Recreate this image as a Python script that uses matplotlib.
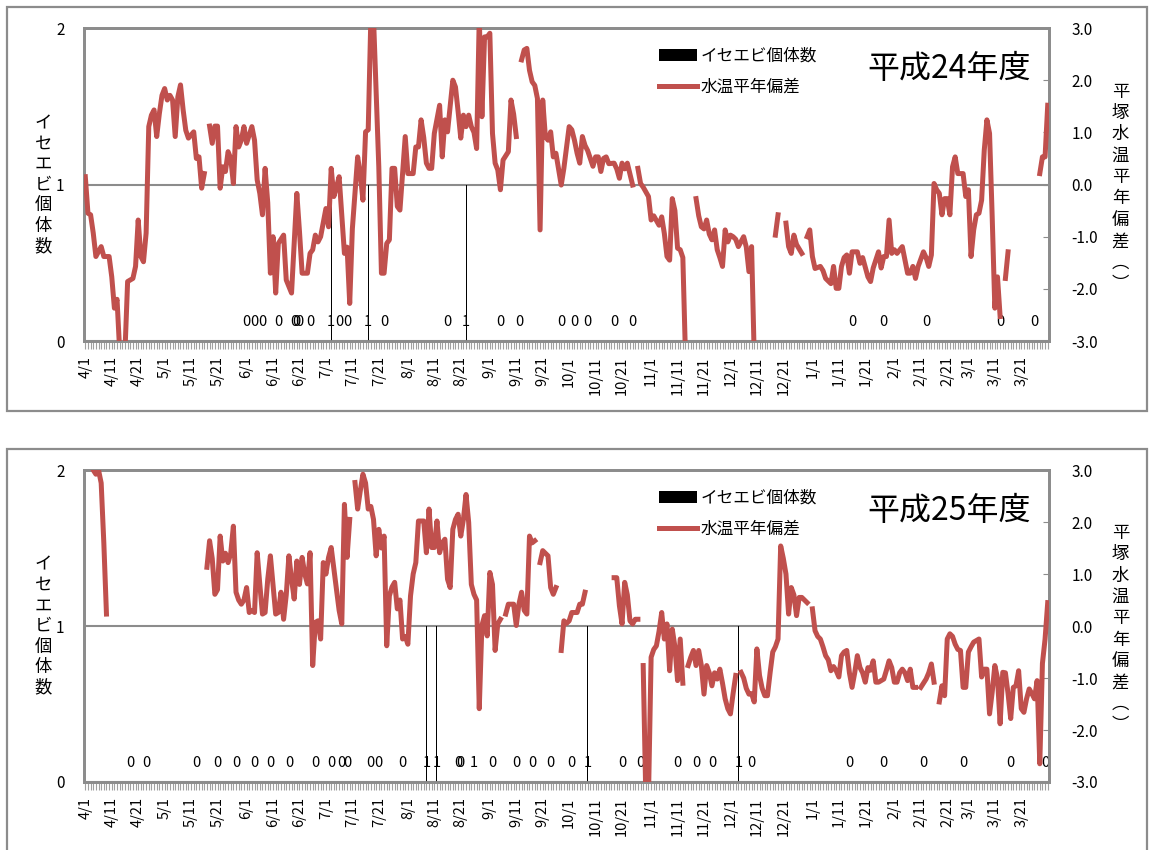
import numpy as np
import pandas as pd
import matplotlib
matplotlib.use("Agg")
import matplotlib.pyplot as plt
from matplotlib.patches import Rectangle, Patch
from matplotlib.lines import Line2D

plt.rcParams['font.family'] = ['Noto Sans CJK JP', 'DejaVu Sans']

nan = np.nan

# day index counted from 4/1 (0 = 4/1), water temperature anomaly (deg C)
h24_temp = [
    (0, 0.15), (1, -0.55), (2, -0.58), (3, -0.93), (4, -1.38), (6, -1.19), (7, -1.38), (9, -1.38),
    (10, -1.77), (11, -2.37), (12, -2.2), (13, -3.2), (15, -3.2), (16, -1.86), (18, -1.8), (19, -1.57),
    (20, -0.68), (21, -1.38), (22, -1.48), (23, -0.93), (24, 1.11), (25, 1.33), (26, 1.43), (27, 0.92),
    (28, 1.36), (29, 1.71), (30, 1.84), (31, 1.62), (32, 1.71), (33, 1.62), (34, 0.92), (35, 1.68),
    (36, 1.91), (37, 1.43), (38, 1.04), (39, 0.89), (41, 1.01), (42, 0.5), (43, 0.53), (44, -0.07),
    (45, 0.21), (46, nan),
    (47, 1.12), (48, 0.79), (49, 1.12), (50, 1.12), (51, -0.07), (52, 0.34), (53, 0.25), (54, 0.63),
    (55, 0.5), (56, 0.02), (57, 1.11), (58, 0.72), (59, 0.85), (60, 1.11), (61, 0.79), (62, 0.95),
    (63, 1.11), (64, 0.85), (65, 0.09), (66, -0.17), (67, -0.58), (68, 0.31), (69, -0.35), (70, -1.7),
    (71, -1.0), (72, -2.08), (73, -1.13), (75, -0.97), (76, -1.83), (78, -2.08), (80, -0.17), (81, -0.9),
    (82, -1.7), (84, -1.7), (85, -1.32), (86, -1.25), (87, -0.97), (88, -1.1), (89, -1.0), (91, -0.46),
    (92, -0.81), (93, 0.31), (94, -0.23), (95, -0.05), (96, 0.15), (98, -1.32), (99, -1.2), (100, -2.28),
    (101, -0.85), (103, 0.53), (104, 0.2), (105, -0.3), (106, 1.01), (107, 1.05), (108, 3.2), (109, 3.2),
    (111, 0.34), (112, -1.7), (113, -1.7), (114, -1.13), (115, -1.06), (116, 0.31), (117, 0.31),
    (118, -0.42), (119, -0.49), (120, 0.21), (121, 0.92), (122, 0.21), (124, 0.21), (125, 0.72),
    (126, 0.72), (127, 1.24), (128, 0.9), (129, 0.41), (130, 0.31), (131, 0.31), (132, 0.98), (134, 1.52),
    (135, 0.53), (136, 1.24), (137, 1.01), (139, 2.0), (140, 1.87), (141, 1.4), (142, 0.89), (143, 1.33),
    (144, 1.11), (145, 1.33), (146, 1.11), (147, 1.0), (148, 0.69), (149, 3.2), (150, 1.3), (151, 2.83),
    (152, 2.83), (153, 2.9), (154, 0.98), (155, 0.41), (156, 0.28), (157, -0.1), (158, 0.47), (159, 0.55),
    (160, 0.63), (161, 1.62), (162, 1.35), (163, 0.92), (164, nan),
    (165, 2.39), (166, 2.58), (167, 2.61), (168, 2.19), (169, 1.97), (170, 1.9), (171, 1.65), (172, -0.87),
    (173, 1.62), (174, 0.92), (175, 0.85), (176, 1.01), (177, 0.53), (178, 0.6), (180, -0.01), (181, 0.31),
    (183, 1.11), (184, 1.05), (185, 0.85), (186, 0.6), (187, 0.41), (188, 0.92), (189, 0.75), (190, 0.65),
    (191, 0.5), (192, 0.35), (193, 0.53), (194, 0.53), (195, 0.25), (196, 0.5), (197, 0.53), (198, 0.4),
    (200, 0.41), (201, 0.3), (202, 0.12), (203, 0.41), (204, 0.3), (205, 0.41), (206, 0.2), (207, -0.01),
    (208, nan),
    (209, 0.31), (210, 0.02), (211, -0.05), (213, -0.23), (214, -0.68), (215, -0.6), (217, -0.78),
    (218, -0.62), (219, -0.94), (220, -1.38), (221, -1.45), (222, -0.27), (223, -0.5), (224, -1.22),
    (225, -1.25), (226, -1.4), (227, -3.3), (228, nan),
    (231, -0.27), (232, -0.6), (233, -0.81), (234, -0.85), (235, -0.68), (236, -0.95), (237, -1.06),
    (238, -0.87), (239, -1.25), (240, -1.4), (241, -1.57), (242, -0.87), (243, -1.1), (244, -0.97),
    (245, -1.0), (246, -1.05), (247, -1.19), (249, -1.0), (250, -1.2), (251, -1.67), (252, -1.19),
    (253, -3.3), (254, nan),
    (261, -0.97), (262, -0.58), (263, nan),
    (265, -0.74), (266, -1.19), (267, -1.32), (268, -0.97), (269, -1.15), (271, -1.32), (272, nan),
    (273, -1.0), (274, -0.87), (275, -1.38), (276, -1.61), (278, -1.57), (279, -1.65), (280, -1.8),
    (282, -1.9), (283, -1.57), (284, -1.99), (285, -1.99), (286, -1.57), (287, -1.4), (288, -1.35),
    (289, -1.7), (290, -1.29), (292, -1.29), (293, -1.51), (294, -1.4), (296, -1.77), (297, -1.86),
    (298, -1.6), (300, -1.29), (301, -1.6), (302, -1.38), (303, -1.38), (304, -0.68), (305, -1.32),
    (306, -1.25), (307, -1.32), (309, -1.19), (310, -1.45), (311, -1.7), (312, -1.7), (313, -1.57),
    (314, -1.8), (315, -1.57), (317, -1.29), (318, -1.4), (319, -1.57), (320, -1.35), (321, 0.02),
    (322, -0.1), (323, -0.17), (324, -0.58), (325, -0.27), (326, -0.27), (327, -0.58), (328, 0.34),
    (329, 0.53), (330, 0.21), (332, 0.21), (333, -0.23), (334, -0.1), (335, -1.38), (336, -0.87),
    (337, -0.58), (338, -0.55), (339, -0.3), (340, 0.66), (341, 1.24), (342, 0.98), (343, -0.62),
    (344, -2.37), (345, -1.77), (346, -2.53), (347, nan),
    (348, -1.8), (349, -1.29), (350, nan),
    (361, 0.21), (362, 0.53), (363, 0.53), (364, 1.52),
]

h25_temp = [
    (0, 3.3), (1, 3.3), (2, 3.1), (3, 3.0), (4, 2.92), (5, 3.0), (6, 2.75), (7, 1.6), (8, 0.23), (9, nan),
    (46, 1.13), (47, 1.64), (48, 1.3), (49, 0.61), (50, 0.7), (51, 1.73), (52, 1.25), (53, 1.4),
    (54, 1.22), (55, 1.4), (56, 1.92), (57, 0.65), (58, 0.5), (59, 0.42), (60, 0.5), (61, 0.74),
    (62, 0.26), (63, 0.3), (64, 0.26), (65, 1.41), (66, 0.8), (67, 0.23), (68, 0.26), (69, 0.9),
    (70, 1.35), (71, 0.8), (72, 0.23), (73, 0.26), (74, 0.65), (75, 0.13), (76, 0.6), (77, 1.35),
    (78, 0.9), (79, 0.52), (80, 1.25), (81, 0.8), (82, 1.32), (83, 1.0), (84, 0.81), (85, 1.41),
    (86, -0.76), (87, 0.07), (88, 0.1), (89, -0.25), (90, 1.22), (91, 1.0), (92, 1.32), (93, 1.51),
    (94, 1.1), (95, 0.7), (96, 0.3), (97, 0.04), (98, 2.34), (99, 1.32), (100, 2.05), (101, nan),
    (102, 2.76), (103, 2.25), (104, 2.6), (105, 2.92), (106, 2.75), (107, 2.25), (108, 2.3), (109, 2.05),
    (110, 1.35), (111, 1.86), (112, 1.5), (113, 1.73), (114, -0.38), (115, 0.58), (116, 0.75),
    (117, 0.84), (118, 0.33), (119, 0.5), (120, -0.25), (121, -0.2), (122, -0.35), (123, 0.58),
    (124, 1.0), (125, 1.22), (126, 2.02), (127, 2.02), (128, 2.02), (129, 1.41), (130, 2.25),
    (131, 1.51), (132, 1.51), (133, 2.02), (134, 1.41), (135, 1.6), (136, 1.67), (137, 0.9),
    (138, 0.74), (139, 1.86), (140, 2.05), (141, 2.15), (142, 1.73), (143, 2.05), (144, 2.53),
    (145, 1.99), (146, 0.8), (147, 0.61), (148, 0.5), (149, -1.59), (150, 0.01), (151, 0.2),
    (152, -0.19), (153, 1.03), (154, 0.8), (155, -0.47), (156, 0.04), (157, 0.13), (158, nan),
    (159, 0.23), (160, 0.42), (161, 0.42), (162, 0.42), (163, 0.01), (164, 0.42), (165, 0.65),
    (166, 0.3), (167, 0.23), (168, 1.73), (169, 1.6), (170, 1.64), (171, nan),
    (172, 1.22), (173, 1.45), (174, 1.4), (175, 1.35), (176, 0.74), (177, 0.61), (178, 0.74), (179, nan),
    (180, -0.47), (181, 0.1), (182, 0.05), (183, 0.1), (184, 0.26), (185, 0.26), (186, 0.26),
    (187, 0.42), (188, 0.42), (189, 0.65), (190, nan),
    (200, 0.93), (201, 0.93), (202, 0.39), (203, 0.04), (204, 0.84), (205, 0.6), (206, 0.1),
    (207, 0.04), (208, 0.13), (209, 0.13), (210, nan),
    (211, -0.76), (212, -3.3), (213, -3.3), (214, -0.6), (215, -0.45), (216, -0.38), (217, -0.1),
    (218, 0.26), (219, -0.25), (220, 0.04), (221, -0.86), (222, -0.06), (223, -0.4), (224, -1.05),
    (225, -0.25), (226, -1.1), (227, nan),
    (228, -0.76), (229, -0.6), (230, -0.47), (231, -0.76), (232, -0.47), (233, -0.76), (234, -1.31),
    (235, -0.76), (236, -0.9), (237, -1.15), (238, -0.9), (239, -1.02), (240, -0.83), (241, -1.1),
    (242, -1.4), (243, -1.59), (244, -1.69), (245, -1.3), (246, -0.95), (247, nan),
    (248, -0.89), (249, -1.0), (250, -1.2), (251, -1.31), (252, -1.3), (253, -1.46), (254, -0.44),
    (255, -0.95), (256, -1.2), (257, -1.34), (258, -1.34), (259, -0.9), (260, -0.5), (261, -0.4),
    (262, -0.25), (263, 1.54), (264, 1.3), (265, 1.0), (266, 0.23), (267, 0.74), (268, 0.6),
    (269, 0.2), (270, 0.55), (271, 0.55), (272, 0.5), (273, 0.45), (274, nan),
    (275, 0.33), (276, -0.09), (277, -0.2), (278, -0.25), (279, -0.4), (280, -0.57), (281, -0.65),
    (282, -0.86), (283, -0.78), (284, -0.86), (285, -0.98), (286, -0.57), (287, -0.5), (288, -0.47),
    (289, -0.9), (290, -1.18), (291, -0.9), (292, -0.57), (293, -0.8), (294, -0.9), (295, -1.08),
    (296, -0.8), (297, -0.85), (298, -0.67), (299, -1.08), (300, -1.08), (301, -1.05), (302, -1.02),
    (303, -0.85), (304, -0.67), (305, -0.8), (306, -1.08), (307, -1.08), (308, -0.9), (309, -0.83),
    (310, -0.9), (311, -1.05), (312, -0.83), (313, -1.18), (314, -1.18), (315, nan),
    (316, -1.18), (317, -1.1), (318, -1.02), (319, -0.9), (320, -0.73), (321, -1.08), (322, nan),
    (323, -1.46), (324, -1.15), (325, -1.34), (326, -0.25), (327, -0.15), (328, -0.2), (329, -0.35),
    (330, -0.45), (331, -0.47), (332, -1.18), (333, -1.18), (334, -0.5), (335, -0.4), (336, -0.31),
    (337, -0.28), (338, -0.25), (339, -0.98), (340, -0.83), (341, -0.83), (342, -1.69), (343, -1.27),
    (344, -0.76), (345, -1.0), (346, -1.88), (347, -0.89), (348, -0.9), (349, -1.3), (350, -1.78),
    (351, -1.18), (352, -1.15), (353, -0.86), (354, -1.59), (355, -1.66), (356, -1.4), (357, -1.21),
    (358, -1.3), (359, -1.4), (360, -1.05), (361, -2.65), (362, -0.72), (363, -0.25), (364, 0.45),
]

# survey days (day index from 4/1) and number of spiny lobsters found
h24_survey_days = [61, 64, 67, 73, 79, 80, 81, 85, 93, 96, 99, 107, 113, 137, 144,
                   157, 164, 180, 185, 190, 200, 207, 290, 302, 318, 346, 359]
h24_counts = [0, 0, 0, 0, 0, 0, 0, 0, 1, 0, 0, 1, 0, 0, 1,
              0, 0, 0, 0, 0, 0, 0, 0, 0, 0, 0, 0]

h25_survey_days = [17, 23, 42, 50, 57, 64, 70, 77, 87, 93, 97, 99, 108, 111, 120, 129, 133,
                   141, 142, 147, 154, 163, 169, 176, 184, 190, 203, 210, 224, 231, 237,
                   247, 252, 289, 302, 317, 332, 350, 363]
h25_counts = [0, 0, 0, 0, 0, 0, 0, 0, 0, 0, 0, 0, 0, 0, 0, 1, 1,
              0, 0, 1, 0, 0, 0, 0, 0, 1, 0, 0, 0, 0, 0,
              1, 0, 0, 0, 0, 0, 0, 0]

fiscal_days = pd.date_range("2012-04-01", periods=365, freq="D")
tick_days = [i for i, d in enumerate(fiscal_days) if d.day in (1, 11, 21)]
tick_labels = [f"{fiscal_days[i].month}/{fiscal_days[i].day}" for i in tick_days]

RED = "#C0504D"
GRAY = "#8C8C8C"


def draw_panel(ax, temp, survey_days, counts, title):
    ax.bar(survey_days, counts, width=0.35, color="black", zorder=3)
    for d, c in zip(survey_days, counts):
        ax.text(d, 0.12, str(c), ha="center", va="center", fontsize=10.5, zorder=4)
    ax.set_xlim(-0.5, 364.5)
    ax.set_ylim(0, 2)
    ax.set_yticks([0, 1, 2])
    ax.set_yticklabels(["0", "1", "2"], fontsize=11)
    ax.tick_params(axis="y", length=0, pad=14)
    ax.grid(axis="y", color=GRAY, linewidth=1.5)
    ax.set_axisbelow(True)
    ax.set_xticks(tick_days)
    ax.set_xticklabels(tick_labels, rotation=90, fontsize=10.5)
    ax.set_xticks(np.arange(365), minor=True)
    ax.tick_params(axis="x", which="both", length=6, width=0.8, color="#A0A0A0", pad=5)
    for s in ax.spines.values():
        s.set_color(GRAY)
        s.set_linewidth(2)
    ax.text(-0.042, 0.5, "\n".join("イセエビ個体数"), transform=ax.transAxes,
            ha="center", va="center", fontsize=12.5, linespacing=1.18)

    ax2 = ax.twinx()
    days = [p[0] for p in temp]
    vals = [p[1] for p in temp]
    ax2.plot(days, vals, color=RED, linewidth=3.6, solid_joinstyle="round", zorder=5)
    ax2.set_ylim(-3, 3)
    ax2.set_yticks(np.arange(-3, 3.1, 1))
    ax2.set_yticklabels([f"{v:.1f}" for v in np.arange(-3, 3.1, 1)], fontsize=11)
    ax2.tick_params(axis="y", direction="in", length=4, color=GRAY, pad=16)
    for s in ax2.spines.values():
        s.set_color(GRAY)
        s.set_linewidth(2)
    ax2.text(1.074, 0.49, "\n".join("平塚水温平年偏差") + "\n︵\n︶", transform=ax.transAxes,
             ha="center", va="center", fontsize=12.5, linespacing=1.24)
    ax2.text(0.896, 0.87, title, transform=ax.transAxes, ha="center", va="center", fontsize=23)

    handles = [Patch(facecolor="black"), Line2D([0], [0], color=RED, linewidth=3.6)]
    ax2.legend(handles, ["イセエビ個体数", "水温平年偏差"], loc="upper left",
               bbox_to_anchor=(0.58, 0.985), frameon=False, fontsize=12,
               handlelength=2.3, handleheight=0.75, handletextpad=0.2, labelspacing=0.85)


fig = plt.figure(figsize=(11.49, 8.5), dpi=100)
fig.patches.append(Rectangle((0.0061, 0.5165), 0.9922, 0.4753, transform=fig.transFigure,
                             fill=False, edgecolor=GRAY, linewidth=1.6))
fig.patches.append(Rectangle((0.0061, -0.02), 0.9922, 0.4918, transform=fig.transFigure,
                             fill=False, edgecolor=GRAY, linewidth=1.6))

ax_top = fig.add_axes([0.0731, 0.5988, 0.8399, 0.3682])
ax_bot = fig.add_axes([0.0731, 0.0800, 0.8399, 0.3670])

draw_panel(ax_top, h24_temp, h24_survey_days, h24_counts, "平成24年度")
draw_panel(ax_bot, h25_temp, h25_survey_days, h25_counts, "平成25年度")

fig.savefig("out.png", dpi=100)
